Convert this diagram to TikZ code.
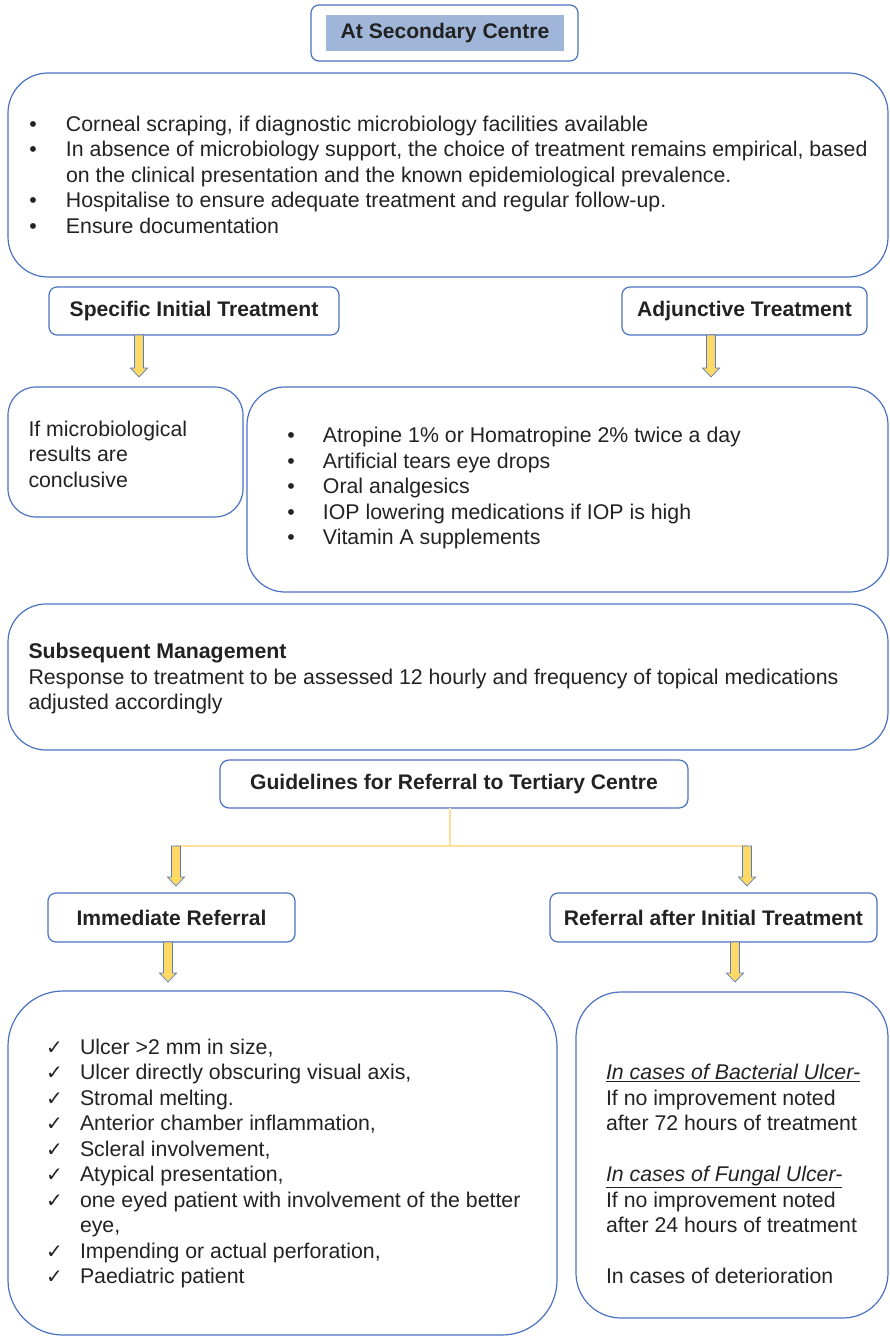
\documentclass[tikz,border=0pt]{standalone}
\usepackage{fontspec}
\setmainfont{Liberation Sans}
\newfontfamily\dvs{DejaVu Sans}
\usetikzlibrary{calc}
\definecolor{boxblue}{HTML}{4A72C2}
\definecolor{titlefill}{HTML}{A0B6D9}
\definecolor{arrowyellow}{HTML}{FFD966}
\definecolor{arrowedge}{HTML}{5B7BC0}
\definecolor{linkyellow}{HTML}{FFE09A}
\definecolor{ink}{HTML}{222222}
\newcommand{\ck}{{\dvs\fontsize{20}{20}\selectfont ✓}}
\newcommand{\yarrow}[3]{%
  \path[arrowshape] let \p1=(#1), \p2=(#2.north) in
   (\x1-4.5pt,\y1) -- (\x1+4.5pt,\y1) -- (\x1+4.5pt,\y2+#3pt+9pt) -- (\x1+8.5pt,\y2+#3pt+9pt)
   -- (\x1,\y2+#3pt) -- (\x1-8.5pt,\y2+#3pt+9pt) -- (\x1-4.5pt,\y2+#3pt+9pt) -- cycle;}
\begin{document}
\begin{tikzpicture}[x=1pt,y=1pt,
  font=\fontsize{21.3}{25.5}\selectfont, text=ink,
  box/.style={draw=boxblue, line width=1.2pt, inner sep=0pt, outer sep=0pt, anchor=north west},
  hbox/.style={box, rounded corners=8pt, font=\fontsize{21.1}{25.5}\selectfont\bfseries},
  txt/.style={inner sep=0pt, outer sep=0pt, anchor=west, align=left},
  arrowshape/.style={fill=arrowyellow, draw=arrowedge, line width=0.7pt, line join=miter},
  link/.style={draw=linkyellow, line width=1.3pt}]
\useasboundingbox (0,0) rectangle (889,-1336);

% title
\node[box, rounded corners=8pt, minimum width=267, minimum height=56] (title) at (311,-5) {};
\node[fill=titlefill, inner sep=0pt, minimum width=238, minimum height=36, font=\fontsize{21.1}{25.5}\selectfont\bfseries] (titletext) at (445,-33) {At Secondary Centre};

% box 1
\node[box, rounded corners=40pt, minimum width=880, minimum height=204] (b1) at (8,-73) {};
\node[txt] (b1t) at (29.3,-177) {\begin{tabular}{@{}p{36.7pt}@{}l@{}}
•& Corneal scraping, if diagnostic microbiology facilities available\\
•& In absence of microbiology support, the choice of treatment remains empirical, based\\
 & on the clinical presentation and the known epidemiological prevalence.\\
•& Hospitalise to ensure adequate treatment and regular follow-up.\\
•& Ensure documentation
\end{tabular}};

% headers
\node[hbox, minimum width=290, minimum height=48] (spec) at (49,-287) {Specific Initial Treatment};
\node[hbox, minimum width=245, minimum height=48] (adj) at (622,-287) {Adjunctive Treatment};

% second row
\node[box, rounded corners=28pt, minimum width=235, minimum height=130] (micro) at (8,-387) {};
\node[txt] (microt) at (28.5,-454) {If microbiological\\results are\\conclusive};
\node[box, rounded corners=38pt, minimum width=641, minimum height=205] (adjl) at (247,-387) {};
\node[txt] (adjlt) at (287.3,-488.5) {\begin{tabular}{@{}p{35.7pt}@{}l@{}}
•& Atropine 1\% or Homatropine 2\% twice a day\\
•& Artificial tears eye drops\\
•& Oral analgesics\\
•& IOP lowering medications if IOP is high\\
•& Vitamin A supplements
\end{tabular}};

\yarrow{$(spec.south west)+(90,0)$}{micro}{10}
\yarrow{$(adj.south west)+(89,0)$}{adjl}{10}

% subsequent management
\node[box, rounded corners=38pt, minimum width=880, minimum height=146] (subs) at (8,-604) {};
\node[txt] (subst) at (28.5,-678.5) {\textbf{Subsequent Management}\\
Response to treatment to be assessed 12 hourly and frequency of topical medications\\
adjusted accordingly};

% guidelines
\node[hbox, rounded corners=9pt, minimum width=468, minimum height=48] (guid) at (220,-760) {Guidelines for Referral to Tertiary Centre};
\coordinate (junction) at (450,-846);
\coordinate (jl) at (176,-846);
\coordinate (jr) at (747,-846);
\draw[link] (guid.south -| junction) -- (junction);
\draw[link] (jl) -- (jr);

\node[hbox, minimum width=247, minimum height=49] (imm) at (48,-893) {Immediate Referral};
\node[hbox, minimum width=327, minimum height=49] (ref) at (550,-893) {Referral after Initial Treatment};

\yarrow{jl}{imm}{7}
\yarrow{jr}{ref}{7}

% bottom boxes
\node[box, rounded corners=55pt, minimum width=549, minimum height=344] (bl) at (8,-991) {};
\node[txt] (blt) at (46,-1164) {\begin{tabular}{@{}p{34pt}@{}l@{}}
\ck& Ulcer >2 mm in size,\\
\ck& Ulcer directly obscuring visual axis,\\
\ck& Stromal melting.\\
\ck& Anterior chamber inflammation,\\
\ck& Scleral involvement,\\
\ck& Atypical presentation,\\
\ck& one eyed patient with involvement of the better\\
 & eye,\\
\ck& Impending or actual perforation,\\
\ck& Paediatric patient
\end{tabular}};

\node[box, rounded corners=45pt, minimum width=312, minimum height=326] (br) at (576,-992) {};
\node[txt] (brt) at (606,-1176.5) {\begin{tabular}{@{}l@{}}
\underline{\textit{In cases of Bacterial Ulcer-}}\\
If no improvement noted\\
after 72 hours of treatment\\
\\
\underline{\textit{In cases of Fungal Ulcer-}}\\
If no improvement noted\\
after 24 hours of treatment\\
\\
In cases of deterioration
\end{tabular}};

\yarrow{$(imm.south west)+(120,0)$}{bl}{9}
\yarrow{$(ref.south west)+(185,0)$}{br}{10}
\end{tikzpicture}
\end{document}
